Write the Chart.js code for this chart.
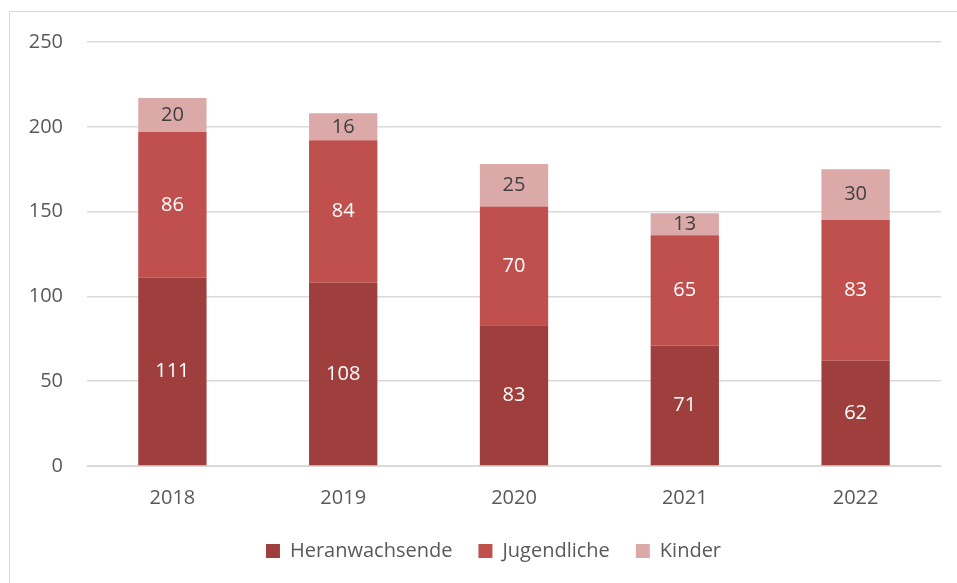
<!DOCTYPE html>
<html>
<head>
<meta charset="utf-8">
<script src="https://cdn.jsdelivr.net/npm/chart.js@4/dist/chart.umd.min.js"></script>
<style>
html,body{margin:0;padding:0;background:#fff;}
#wrap{position:relative;width:957px;height:583px;}
#frame{position:absolute;left:9px;top:11px;right:-2px;bottom:-2px;border-left:1px solid #D9D9D9;border-top:1px solid #D9D9D9;}
canvas{position:absolute;left:0;top:0;}
</style>
</head>
<body>
<div id="wrap"><div id="frame"></div><canvas id="c" width="957" height="583"></canvas></div>
<script>
const categories = ["2018","2019","2020","2021","2022"];
const heranwachsende = [111,108,83,71,62];
const jugendliche = [86,84,70,65,83];
const kinder = [20,16,25,13,30];
const yTicks = [0,50,100,150,200,250];

const FONT = "'Open Sans', 'Noto Sans', sans-serif";

const labelPlugin = {
  id: 'barLabels',
  afterDatasetsDraw(chart) {
    const ctx = chart.ctx;
    ctx.save();
    ctx.font = "20px " + FONT;
    ctx.textAlign = 'center';
    ctx.textBaseline = 'middle';
    chart.data.datasets.forEach((ds, di) => {
      const meta = chart.getDatasetMeta(di);
      meta.data.forEach((bar, i) => {
        const y = (bar.y + bar.base) / 2;
        ctx.fillStyle = ds.labelColor;
        ctx.fillText(String(ds.data[i]), bar.x, y);
      });
    });
    ctx.restore();
  }
};

const legendShift = {
  id: 'legendShift',
  afterLayout(chart) {
    if (chart.legend) { chart.legend.left += 23; chart.legend.right += 23; }
  }
};

new Chart(document.getElementById('c'), {
  type: 'bar',
  data: {
    labels: categories,
    datasets: [
      {label:'Heranwachsende', data:heranwachsende, backgroundColor:'#9E3F3D', labelColor:'#FFFFFF', borderWidth:0},
      {label:'Jugendliche', data:jugendliche, backgroundColor:'#C0504D', labelColor:'#FFFFFF', borderWidth:0},
      {label:'Kinder', data:kinder, backgroundColor:'#DCA9A9', labelColor:'#404040', borderWidth:0}
    ]
  },
  options: {
    responsive:false,
    animation:false,
    devicePixelRatio:1,
    layout:{padding:{left:0,right:16,top:42,bottom:12}},
    datasets:{bar:{categoryPercentage:0.8, barPercentage:0.5}},
    plugins:{
      tooltip:{enabled:false},
      legend:{
        position:'bottom',
        labels:{
          font:{family:FONT,size:20},
          color:'#595959',
          boxWidth:14, boxHeight:14,
          padding:26
        }
      }
    },
    scales:{
      x:{
        stacked:true,
        grid:{display:false},
        border:{display:true,color:'#D9D9D9'},
        ticks:{font:{family:FONT,size:20},color:'#595959',padding:12},
        afterFit(s){ s.height = 49; }
      },
      y:{
        stacked:true,
        min:0,max:250,
        afterBuildTicks(s){ s.ticks = yTicks.map(v=>({value:v})); },
        grid:{color:'#D9D9D9',lineWidth:1.5,drawTicks:false},
        border:{display:false},
        ticks:{font:{family:FONT,size:20},color:'#595959',padding:24},
        afterFit(s){ s.width = 87; }
      }
    }
  },
  plugins:[labelPlugin, legendShift]
});
</script>
</body>
</html>
